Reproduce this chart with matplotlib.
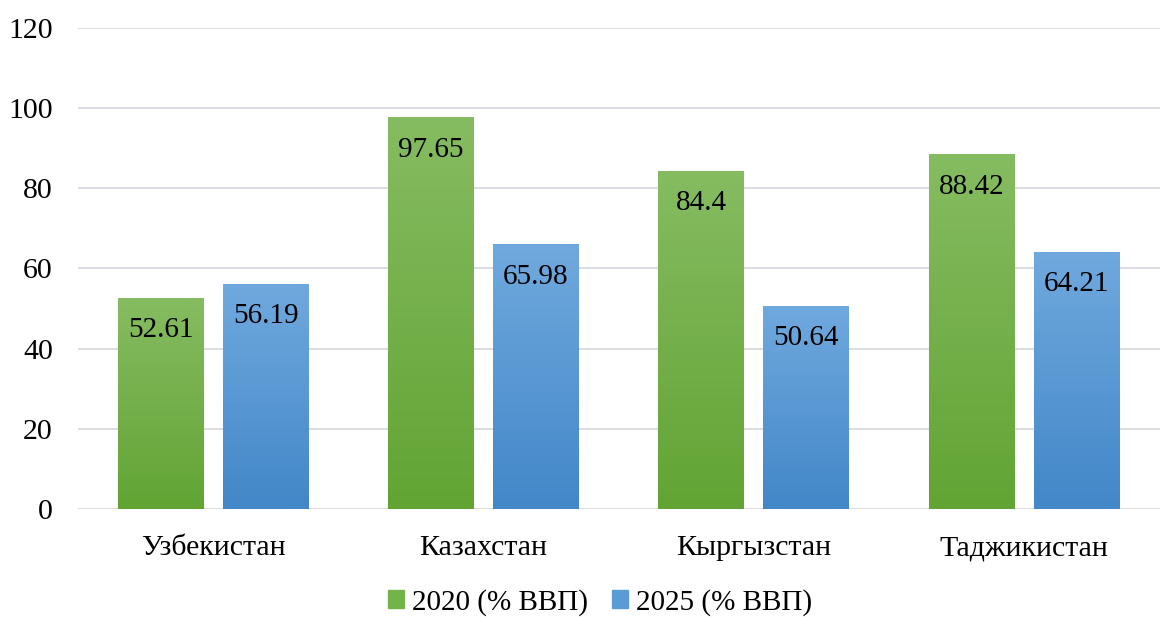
import numpy as np
import matplotlib.pyplot as plt
from matplotlib.colors import LinearSegmentedColormap

plt.rcParams['font.family'] = ['Liberation Serif', 'DejaVu Serif']

categories = ["Узбекистан", "Казахстан", "Кыргызстан", "Таджикистан"]
series_names = ["2020 (% ВВП)", "2025 (% ВВП)"]
values_2020 = [52.61, 97.65, 84.4, 88.42]
values_2025 = [56.19, 65.98, 50.64, 64.21]

# gradient colours (top, bottom)
green = ("#86BC61", "#62A434")
blue = ("#70A9DE", "#4287C8")

fig = plt.figure(figsize=(11.63, 6.17), dpi=100)
ax = fig.add_axes([0.067, 0.175, 0.930, 0.78])

x = np.arange(len(categories))
width = 0.318
offset = 0.194


def gradient_bars(bars, cols):
    cmap = LinearSegmentedColormap.from_list("g", [cols[1], cols[0]])
    grad = np.linspace(0, 1, 256).reshape(-1, 1)
    for b in bars:
        x0, y0 = b.get_x(), b.get_y()
        w, h = b.get_width(), b.get_height()
        im = ax.imshow(grad, cmap=cmap, aspect="auto", origin="lower",
                       extent=(x0, x0 + w, y0, y0 + h), zorder=3)
        im.set_clip_path(b)
        b.set_facecolor("none")


def label_bars(bars, vals):
    for b, v in zip(bars, vals):
        ax.annotate(f"{v:g}", (b.get_x() + b.get_width() / 2, b.get_height()),
                    xytext=(0, -14), textcoords="offset points",
                    ha="center", va="top", fontsize=21, color="black", zorder=5)


b1 = ax.bar(x - offset, values_2020, width, color=green[1], zorder=3, linewidth=0)
b2 = ax.bar(x + offset, values_2025, width, color=blue[1], zorder=3, linewidth=0)
gradient_bars(b1, green)
gradient_bars(b2, blue)
label_bars(b1, values_2020)
label_bars(b2, values_2025)

ax.set_xlim(-0.5, len(categories) - 0.5)
ax.set_ylim(0, 120)
ax.set_yticks(range(0, 121, 20))
ax.set_xticks(x)
ax.set_xticklabels(categories, fontsize=21.5)
ax.tick_params(axis="y", labelsize=21.5, length=0, pad=18)
ax.tick_params(axis="x", length=0, pad=19)
ax.grid(axis="y", color="#DADDE2", linewidth=1.4, zorder=0)
ax.set_axisbelow(True)
for sp in ax.spines.values():
    sp.set_visible(False)

handles = [plt.Rectangle((0, 0), 1, 1, color="#74B34A"),
           plt.Rectangle((0, 0), 1, 1, color="#5A9AD6")]
fig.legend(handles, series_names, loc="center", bbox_to_anchor=(0.516, 0.024),
           ncol=2, frameon=False, fontsize=21, handlelength=0.55, handleheight=0.55,
           handletextpad=0.25, columnspacing=0.85)

fig.savefig("out.png", dpi=100)
